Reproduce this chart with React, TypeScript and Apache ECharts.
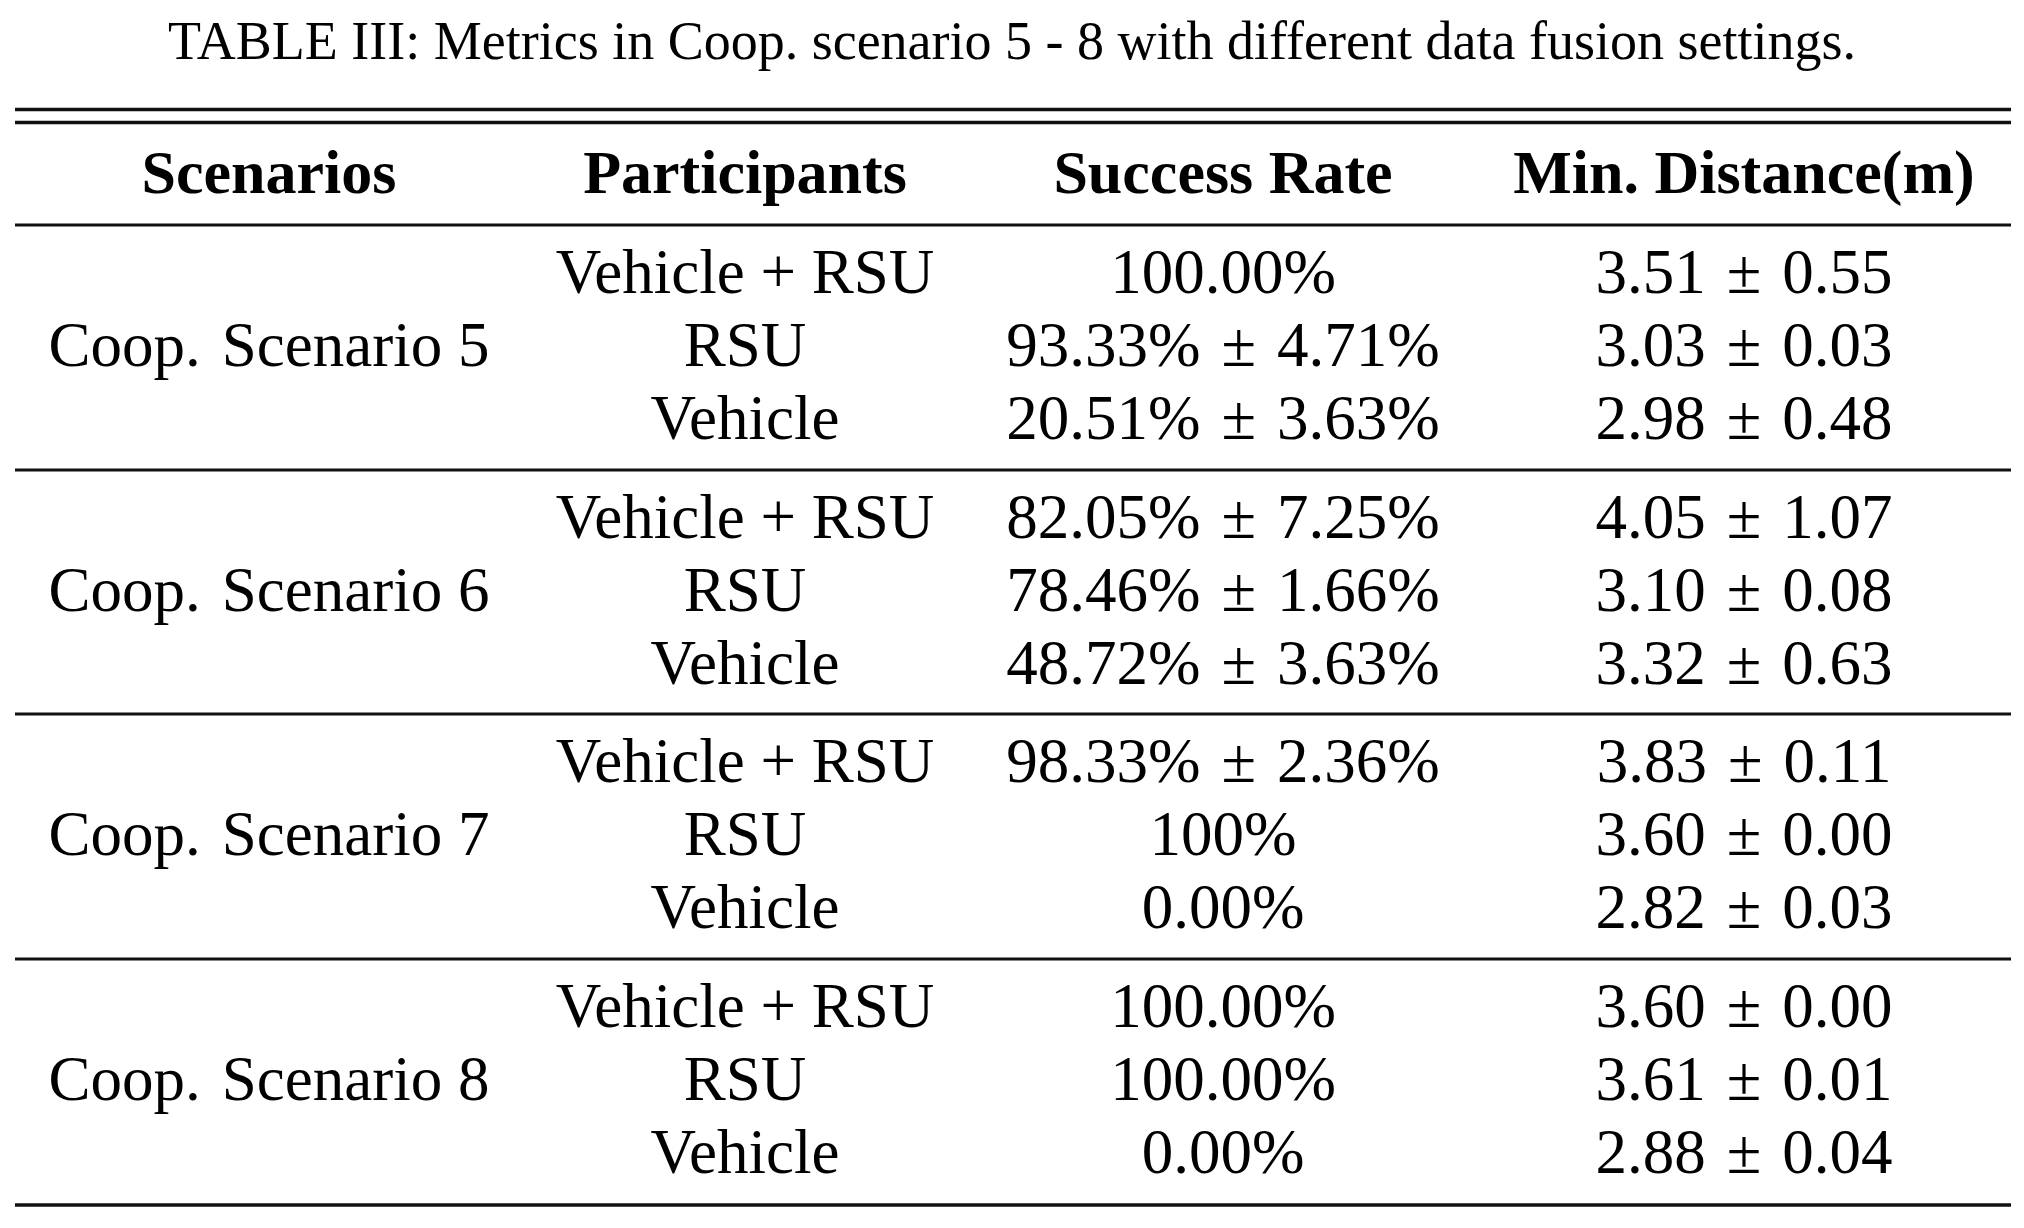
import React, { useEffect, useRef } from "react";
import * as echarts from "echarts";

// ---------- data ----------
const tableTitle =
  "TABLE III: Metrics in Coop. scenario 5 - 8 with different data fusion settings.";
const headers = ["Scenarios", "Participants", "Success Rate", "Min. Distance(m)"];
const scenarios = ["Coop. Scenario 5", "Coop. Scenario 6", "Coop. Scenario 7", "Coop. Scenario 8"];
const participants = ["Vehicle + RSU", "RSU", "Vehicle"];

const successRateS5 = ["100.00%", "93.33% \u00b1 4.71%", "20.51% \u00b1 3.63%"];
const successRateS6 = ["82.05% \u00b1 7.25%", "78.46% \u00b1 1.66%", "48.72% \u00b1 3.63%"];
const successRateS7 = ["98.33% \u00b1 2.36%", "100%", "0.00%"];
const successRateS8 = ["100.00%", "100.00%", "0.00%"];

const minDistanceS5 = ["3.51 \u00b1 0.55", "3.03 \u00b1 0.03", "2.98 \u00b1 0.48"];
const minDistanceS6 = ["4.05 \u00b1 1.07", "3.10 \u00b1 0.08", "3.32 \u00b1 0.63"];
const minDistanceS7 = ["3.83 \u00b1 0.11", "3.60 \u00b1 0.00", "2.82 \u00b1 0.03"];
const minDistanceS8 = ["3.60 \u00b1 0.00", "3.61 \u00b1 0.01", "2.88 \u00b1 0.04"];

const successRates = [successRateS5, successRateS6, successRateS7, successRateS8];
const minDistances = [minDistanceS5, minDistanceS6, minDistanceS7, minDistanceS8];

// ---------- layout ----------
const W = 2024;
const H = 1228;
const FONT = '"Liberation Serif", "Times New Roman", Times, serif';
const colX = [269, 745, 1223, 1744];
const ruleLeft = 15;
const ruleRight = 2011;
const titleY = 41;
const headerY = 172;
const groupMidY = [345, 590, 834, 1079];
const rowGap = 73;
const topRules = [109.5, 122.5];
const headerRule = 225;
const groupRules = [470, 714, 959];
const bottomRule = 1205;
const BODY = 63;

// slightly wider (TeX-like) spacing in the body cells
function texSpacing(t: string) {
  return t
    .replace(/Coop\. /g, "Coop.\u2004")
    .replace(/ \u00b1 /g, "\u2004\u00b1\u2004");
}

function text(x: number, y: number, t: string, size: number, bold = false, tex = true) {
  return {
    type: "text",
    x,
    y,
    silent: true,
    style: {
      text: tex ? texSpacing(t) : t,
      fontSize: size,
      fontFamily: FONT,
      fontWeight: bold ? "bold" : "normal",
      align: "center",
      verticalAlign: "middle",
      fill: "#000",
    },
  };
}

function rule(y: number, w: number) {
  return {
    type: "line",
    silent: true,
    shape: { x1: ruleLeft, y1: y, x2: ruleRight, y2: y },
    style: { stroke: "#111", lineWidth: w },
  };
}

export default function App() {
  const ref = useRef<HTMLDivElement>(null);
  useEffect(() => {
    if (!ref.current) return;
    const chart = echarts.init(ref.current, null, { renderer: "svg", width: W, height: H });
    const elements: any[] = [];
    elements.push(text(W / 2, titleY, tableTitle, 54, false, false));
    topRules.forEach((y) => elements.push(rule(y, 3.5)));
    headers.forEach((h, i) => elements.push(text(colX[i], headerY, h, 62, true, false)));
    elements.push(rule(headerRule, 3));
    scenarios.forEach((s, g) => {
      const mid = groupMidY[g];
      elements.push(text(colX[0], mid, s, BODY));
      participants.forEach((p, r) => {
        const y = mid + (r - 1) * rowGap;
        elements.push(text(colX[1], y, p, BODY));
        elements.push(text(colX[2], y, successRates[g][r], BODY));
        elements.push(text(colX[3], y, minDistances[g][r], BODY));
      });
    });
    groupRules.forEach((y) => elements.push(rule(y, 3)));
    elements.push(rule(bottomRule, 3.5));
    chart.setOption({
      animation: false,
      backgroundColor: "#fff",
      graphic: { elements },
    });
    return () => chart.dispose();
  }, []);
  return (
    <div
      ref={ref}
      style={{ position: "fixed", left: 0, top: 0, width: W, height: H, background: "#fff" }}
    />
  );
}
